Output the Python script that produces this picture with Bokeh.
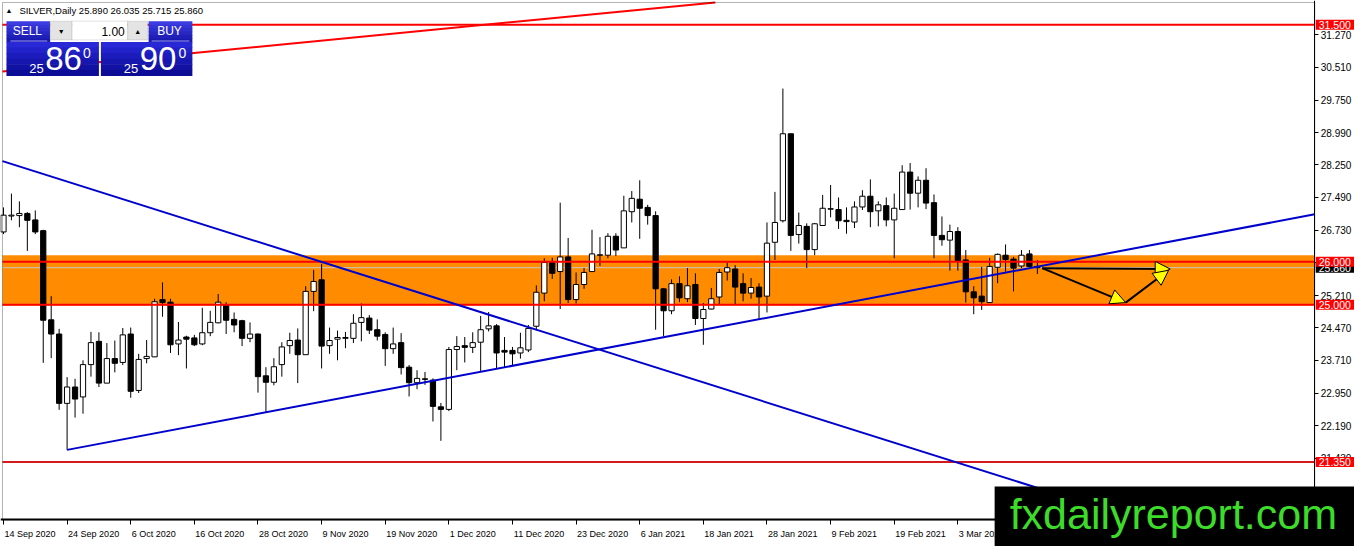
from bokeh.plotting import figure
from bokeh.models import (Range1d, FixedTicker, NumeralTickFormatter, BoxAnnotation,
                          Label, Arrow, NormalHead, ColumnDataSource)
from bokeh.embed import file_html
from bokeh.resources import INLINE

# ---------------- data ----------------
bar_index = list(range(131))
open_ = [26.69, 27.06, 27.07, 27.12, 26.97, 26.72, 24.65, 24.32, 22.71, 23.09,
         22.86, 23.61, 24.15, 23.18, 23.75, 23.66, 24.32, 23.01, 23.75, 23.79,
         25.12, 25.06, 24.09, 24.25, 24.23, 24.09, 24.35, 24.58, 24.99, 24.66,
         24.63, 24.22, 24.32, 23.35, 23.20, 23.61, 24.05, 24.18, 23.84, 25.31,
         25.58, 24.05, 24.20, 24.22, 24.22, 24.59, 24.69, 24.42, 24.31, 23.98,
         24.12, 23.55, 23.19, 23.28, 23.25, 22.63, 22.57, 23.96, 24.05, 24.01,
         24.13, 24.44, 24.51, 23.94, 23.94, 23.88, 23.95, 24.50, 25.27, 25.98,
         25.77, 26.11, 25.12, 25.47, 25.77, 26.15, 26.15, 26.59, 26.32, 27.16,
         27.45, 27.26, 27.07, 25.37, 24.86, 25.49, 25.14, 25.47, 24.68, 24.90,
         25.18, 25.76, 25.83, 25.49, 25.27, 25.41, 25.20, 26.45, 26.95, 28.97,
         26.63, 26.82, 26.28, 26.84, 27.22, 27.21, 26.96, 26.92, 27.27, 27.52,
         27.18, 27.30, 26.97, 27.21, 28.08, 27.59, 27.89, 27.37, 26.61, 26.50,
         26.70, 26.04, 25.30, 25.20, 25.05, 25.87, 26.15, 26.06, 25.90, 26.18,
         25.89]
high = [27.26, 27.58, 27.40, 27.15, 27.19, 26.74, 25.20, 24.44, 23.32, 23.28,
        23.71, 24.37, 24.36, 24.11, 24.17, 24.46, 24.47, 23.86, 24.18, 25.14,
        25.52, 25.14, 24.60, 24.28, 24.30, 24.93, 24.86, 25.25, 25.06, 24.82,
        24.65, 24.59, 24.33, 23.55, 23.76, 24.13, 24.35, 24.45, 25.43, 25.81,
        25.95, 24.47, 24.40, 24.37, 24.78, 25.03, 24.76, 24.66, 24.36, 24.47,
        24.34, 23.60, 23.48, 23.44, 23.29, 22.72, 24.02, 24.27, 24.25, 24.36,
        24.74, 24.83, 24.55, 24.25, 24.02, 24.35, 24.53, 25.45, 26.08, 26.09,
        27.37, 26.55, 25.75, 25.85, 26.74, 26.57, 26.66, 26.66, 27.53, 27.64,
        27.89, 27.32, 27.17, 25.39, 25.59, 25.66, 25.85, 25.73, 25.04, 25.39,
        25.83, 25.98, 25.92, 25.73, 25.62, 25.50, 26.91, 27.62, 30.02, 28.97,
        27.14, 26.89, 26.90, 27.55, 27.78, 27.49, 27.26, 27.40, 27.66, 27.91,
        27.40, 27.49, 27.58, 28.24, 28.29, 27.98, 28.17, 27.56, 27.05, 26.86,
        26.80, 26.27, 25.43, 25.88, 26.09, 26.19, 26.40, 26.11, 26.27, 26.27,
        26.035]
low = [26.64, 26.96, 26.80, 26.25, 26.64, 23.65, 23.76, 22.56, 21.63, 22.38,
       22.47, 23.33, 23.09, 23.18, 23.43, 23.60, 22.84, 22.95, 23.64, 23.79,
       24.72, 23.88, 23.83, 23.52, 24.04, 24.06, 24.27, 24.57, 24.32, 24.36,
       24.04, 24.13, 22.96, 22.51, 23.13, 23.33, 23.86, 23.18, 23.84, 24.85,
       23.52, 23.86, 23.71, 23.99, 24.11, 24.15, 24.32, 24.17, 23.58, 23.86,
       23.38, 22.87, 23.04, 23.14, 22.29, 21.84, 22.53, 23.48, 23.66, 23.88,
       23.46, 24.38, 23.52, 23.54, 23.60, 23.75, 23.90, 24.40, 25.08, 25.60,
       24.90, 25.04, 25.03, 25.37, 25.77, 25.90, 26.08, 26.13, 26.32, 26.91,
       26.53, 26.86, 24.42, 24.27, 24.78, 25.06, 25.06, 24.53, 24.07, 24.89,
       25.01, 25.56, 25.01, 25.08, 25.14, 24.67, 24.82, 26.04, 26.91, 26.25,
       26.42, 25.85, 26.15, 26.84, 27.03, 26.76, 26.65, 26.78, 27.20, 26.80,
       26.82, 26.82, 26.08, 27.20, 27.21, 27.26, 27.22, 26.08, 26.37, 25.79,
       25.79, 25.05, 24.78, 24.88, 25.05, 25.50, 25.77, 25.31, 25.85, 25.87,
       25.715]
close = [27.08, 27.08, 27.12, 26.96, 26.69, 24.64, 24.32, 22.71, 23.09, 22.81,
         23.61, 24.12, 23.18, 23.75, 23.64, 24.30, 22.99, 23.73, 23.80, 25.07,
         25.05, 24.07, 24.18, 24.20, 24.07, 24.35, 24.59, 25.06, 24.64, 24.53,
         24.22, 24.32, 23.33, 23.20, 23.56, 24.02, 24.17, 23.84, 25.31, 25.54,
         24.04, 24.17, 24.24, 24.24, 24.57, 24.70, 24.41, 24.27, 23.98, 24.09,
         23.54, 23.19, 23.29, 23.27, 22.64, 22.57, 23.96, 24.03, 24.01, 24.12,
         24.42, 24.51, 23.88, 23.90, 23.86, 24.00, 24.45, 25.29, 25.98, 25.73,
         26.11, 25.12, 25.47, 25.75, 26.18, 26.16, 26.59, 26.27, 27.18, 27.47,
         27.24, 27.07, 25.37, 24.86, 25.49, 25.16, 25.44, 24.68, 24.89, 25.14,
         25.75, 25.86, 25.41, 25.27, 25.40, 25.18, 26.43, 26.91, 28.97, 26.61,
         26.84, 26.28, 26.88, 27.24, 27.23, 26.95, 26.93, 27.27, 27.52, 27.16,
         27.32, 26.97, 27.24, 28.08, 27.59, 27.89, 27.36, 26.61, 26.51, 26.70,
         26.02, 25.30, 25.16, 25.07, 25.89, 26.17, 26.05, 25.85, 26.15, 25.89,
         25.86]

date_tick_index = [0, 8, 16, 24, 32, 40, 48, 56, 64, 72, 80, 88, 96, 104, 112, 120]
date_tick_labels = ["14 Sep 2020", "24 Sep 2020", "6 Oct 2020", "16 Oct 2020",
                    "28 Oct 2020", "9 Nov 2020", "19 Nov 2020", "1 Dec 2020",
                    "11 Dec 2020", "23 Dec 2020", "6 Jan 2021", "18 Jan 2021",
                    "28 Jan 2021", "9 Feb 2021", "19 Feb 2021", "3 Mar 2021"]
price_ticks = [31.27, 30.51, 29.75, 28.99, 28.25, 27.49, 26.73, 25.97,
               25.21, 24.47, 23.71, 22.95, 22.19, 21.43]

resistance_level = 31.5
zone_upper_line = 26.0
zone_lower_line = 25.0
support_level = 21.35
bid_price = 25.86
zone_top = 26.15
zone_bottom = 24.98

down_trend_idx = [-0.125, 140]
down_trend_price = [28.334, 20.165]
up_trend_idx = [8, 164.875]
up_trend_price = [21.63, 27.10]
upper_line_idx = [-0.125, 89.5]
upper_line_price = [30.416, 32.018]

arrow_start_idx = [130.6, 130.6, 141.1]
arrow_start_price = [25.85, 25.85, 25.05]
arrow_end_idx = [146.7, 141.1, 146.5]
arrow_end_price = [25.83, 25.05, 25.80]

header_text = "SILVER,Daily  25.890 26.035 25.715 25.860"
sell_quote = ["25", "86", "0"]
buy_quote = ["25", "90", "0"]
lot_size = "1.00"
watermark = "fxdailyreport.com"

# ---------------- layout helpers (reference pixel -> axis units) ----------------
def fx(px):
    return (px - 3) / 8.0


def fy(py):
    return 32.064 - py / 43.7


W, H = 1354, 546
X_LEFT, X_RIGHT = fx(2), fx(1322)      # edges of the price chart area
Y_TOP, Y_BOTTOM = fy(2), fy(527)
FONT = "Liberation Sans"

p = figure(width=W, height=H, x_range=Range1d(fx(0), fx(1362)), y_range=Range1d(fy(554), fy(0)),
           output_backend="svg", toolbar_location=None, y_axis_location="right",
           min_border=0, background_fill_color="white", border_fill_color="white")
p.title.visible = False
p.grid.visible = False
p.outline_line_color = None

# zone rectangle & bid line (behind candles)
p.add_layout(BoxAnnotation(left=X_LEFT, right=X_RIGHT, bottom=zone_bottom, top=zone_top,
                           fill_color="#ff8c00", fill_alpha=1.0, line_color=None,
                           level="underlay"))
p.segment(x0=[X_LEFT], x1=[X_RIGHT], y0=[bid_price], y1=[bid_price],
          line_color="#c8c8c8", line_width=1)

# candles
body_top = [max(o, c) for o, c in zip(open_, close)]
body_bot = [min(o, c) for o, c in zip(open_, close)]
body_bot = [b if t - b > 0.012 else t - 0.012 for t, b in zip(body_top, body_bot)]
fills = ["white" if c >= o else "black" for o, c in zip(open_, close)]
src = ColumnDataSource(dict(x=bar_index, high=high, low=low, top=body_top,
                            bottom=body_bot, fill=fills))
p.segment(x0="x", y0="low", x1="x", y1="high", source=src, line_color="black", line_width=1)
p.vbar(x="x", width=0.66, top="top", bottom="bottom", source=src,
       fill_color="fill", line_color="black", line_width=1)

# horizontal levels
lvls = [resistance_level, zone_upper_line, zone_lower_line, support_level]
lvl_cols = ["#ff0000", "#ff0000", "#ff0000", "#d41a1a"]
p.segment(x0=[X_LEFT] * 4, x1=[X_RIGHT] * 4, y0=lvls, y1=lvls, line_color=lvl_cols,
          line_width=2)

# trendlines
p.line(down_trend_idx, down_trend_price, line_color="#0000cd", line_width=2)
p.line(up_trend_idx, up_trend_price, line_color="#0000cd", line_width=2)
p.line(upper_line_idx, upper_line_price, line_color="#ff0000", line_width=2)

# arrows
for xs, ys, xe, ye in zip(arrow_start_idx, arrow_start_price, arrow_end_idx, arrow_end_price):
    p.add_layout(Arrow(x_start=xs, y_start=ys, x_end=xe, y_end=ye, line_color="black",
                       line_width=2,
                       end=NormalHead(size=15, fill_color="#ffff00", line_color="black",
                                      line_width=1)))

# chart border (left / top)
p.add_layout(BoxAnnotation(left=X_LEFT, right=X_RIGHT, top=Y_TOP, bottom=Y_BOTTOM,
                           fill_color=None, fill_alpha=0, line_color="black", line_width=1,
                           level="annotation"))

# ---------------- axes ----------------
px_per_bar = 8.0 * W / 1362
xa = p.xaxis[0]
xa.fixed_location = Y_BOTTOM
w_char = {" ": 0.278, "1": 0.556, "S": 0.667, "O": 0.778, "N": 0.722, "D": 0.722,
          "J": 0.5, "F": 0.611, "M": 0.833, "c": 0.5, "t": 0.278, "v": 0.5, "r": 0.333}
lab_px = 9
centers = []
overrides = {}
for idx, lab in zip(date_tick_index, date_tick_labels):
    w = sum(w_char.get(ch, 0.556) for ch in lab) * lab_px
    c = round(idx + (1 + w / 2) / px_per_bar, 4)
    centers.append(c)
    overrides[c] = lab
xa.ticker = FixedTicker(ticks=centers, minor_ticks=date_tick_index)
xa.major_label_overrides = overrides
xa.major_tick_line_color = None
xa.major_tick_out = 5
xa.major_tick_in = 0
xa.minor_tick_line_color = "black"
xa.minor_tick_out = 5
xa.minor_tick_in = 0
xa.major_label_standoff = 4
xa.axis_line_color = "black"
xa.axis_line_width = 2
xa.major_label_text_font = FONT
xa.major_label_text_font_size = f"{lab_px}px"
xa.major_label_text_color = "black"

ya = p.yaxis[0]
ya.fixed_location = X_RIGHT
ya.ticker = FixedTicker(ticks=price_ticks)
ya.formatter = NumeralTickFormatter(format="0.000")
ya.major_tick_out = 4
ya.major_tick_in = 0
ya.minor_tick_line_color = None
ya.major_label_standoff = 2
ya.axis_line_color = "black"
ya.major_label_text_font = FONT
ya.major_label_text_font_size = "10px"
ya.major_label_text_color = "black"

# ---------------- header & trade panel ----------------
p.add_layout(Label(x=fx(5), y=fy(10), text="▲", text_font=FONT, text_font_size="7px",
                   text_baseline="middle", text_color="black", level="overlay"))
p.add_layout(Label(x=fx(19), y=fy(10), text=header_text, text_font=FONT,
                   text_font_size="9.5px", text_baseline="middle", text_color="black",
                   level="overlay"))


def gradient_box(l, r, t, b, c_top, c_bot, n=6):
    h = (b - t) / n
    for i in range(n):
        f = i / (n - 1)
        col = "#%02x%02x%02x" % tuple(int(c_top[k] + (c_bot[k] - c_top[k]) * f) for k in range(3))
        p.add_layout(BoxAnnotation(left=fx(l), right=fx(r), top=fy(t + i * h),
                                   bottom=fy(t + (i + 1) * h + 0.5), fill_color=col,
                                   fill_alpha=1.0, line_color=None, level="overlay"))


gradient_box(6, 50, 21, 42, (60, 60, 225), (25, 25, 175))
gradient_box(149, 193, 21, 42, (60, 60, 225), (25, 25, 175))
gradient_box(6, 99, 42, 76, (40, 40, 215), (12, 12, 150))
gradient_box(101, 193, 42, 76, (40, 40, 215), (12, 12, 150))
for l, r, col in [(50, 72, "#e4e4e4"), (72, 128, "white"), (128, 148, "#e4e4e4")]:
    p.add_layout(BoxAnnotation(left=fx(l), right=fx(r), top=fy(21), bottom=fy(40),
                               fill_color=col, fill_alpha=1.0, line_color="#a0a0a0",
                               line_width=1, level="overlay"))
for l, r in [(10, 47), (152, 190)]:
    p.add_layout(BoxAnnotation(left=fx(l), right=fx(r), top=fy(40.5), bottom=fy(41.5),
                               fill_color="#9a9af0", fill_alpha=1.0, line_color=None,
                               level="overlay"))


def panel_text(px, py, txt, size, color="white", align="center", baseline="middle"):
    p.add_layout(Label(x=fx(px), y=fy(py), text=txt, text_font=FONT, text_font_size=size,
                       text_color=color, text_align=align, text_baseline=baseline,
                       level="overlay"))


panel_text(27, 31, "SELL", "12px")
panel_text(170, 31, "BUY", "12px")
panel_text(61, 31, "▼", "7px", color="black")
panel_text(138, 31, "▲", "7px", color="black")
panel_text(125, 31, lot_size, "12px", color="black", align="right")
panel_text(29, 69, sell_quote[0], "13px", align="left")
panel_text(45, 58.5, sell_quote[1], "33px", align="left")
panel_text(83, 53.5, sell_quote[2], "14px", align="left")
panel_text(124, 69, buy_quote[0], "13px", align="left")
panel_text(140, 58.5, buy_quote[1], "33px", align="left")
panel_text(179, 53.5, buy_quote[2], "14px", align="left")

# ---------------- tags on the price scale and watermark ----------------
for price, bg in [(bid_price, "black"), (resistance_level, "#ff0000"),
                  (zone_upper_line, "#ff0000"), (zone_lower_line, "#ff0000"),
                  (support_level, "#ff0000")]:
    p.add_layout(Label(x=X_RIGHT, y=price, x_offset=1, text=f"{price:.3f}",
                       text_color="white", text_font=FONT, text_font_size="10.5px",
                       text_baseline="middle", text_align="left",
                       background_fill_color=bg, background_fill_alpha=1.0,
                       padding=dict(left=3, right=4, top=1, bottom=1), level="overlay"))

p.add_layout(Label(x=fx(1000), y=fy(493), text=watermark, text_font=FONT,
                   text_font_size="43px", text_color="#3ddc2a", text_align="left",
                   text_baseline="top", background_fill_color="black",
                   background_fill_alpha=1.0,
                   padding=dict(left=15, right=60, top=4, bottom=30), level="overlay"))

open("out.html", "w").write(file_html(p, INLINE))
